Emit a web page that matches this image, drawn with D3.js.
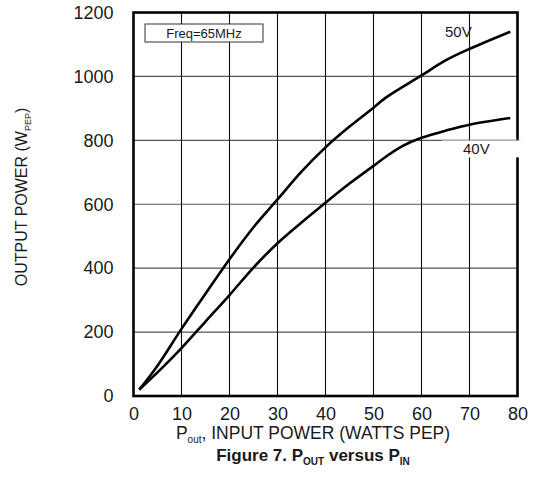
<!DOCTYPE html>
<html><head><meta charset="utf-8">
<script src="https://cdn.jsdelivr.net/npm/d3@7"></script>
<style>body{margin:0;background:#fff} text{font-family:"Liberation Sans",Arial,Helvetica,sans-serif}</style>
</head><body><svg id="c" width="535" height="480"></svg>
<script>
// ---- data ----
const xTicks = [0, 10, 20, 30, 40, 50, 60, 70, 80];
const yTicks = [0, 200, 400, 600, 800, 1000, 1200];
const pin50  = [1.2, 5, 10, 15, 20, 25, 30, 35, 40, 45, 50, 52.5, 60, 65, 70, 78.5];
const pout50 = [20, 95, 210, 320, 428, 528, 615, 702, 778, 843, 902, 933, 1003, 1050, 1086, 1140];
const pin40  = [1.2, 5, 10, 15, 20, 25, 30, 35, 40, 45, 50, 52.5, 56, 60, 65, 70, 78.5];
const pout40 = [20, 74, 150, 233, 316, 402, 478, 543, 605, 665, 720, 748, 782, 808, 830, 849, 870];
const seriesLabels = ["50V", "40V"];
const freqLabel = "Freq=65MHz";

const svg = d3.select("#c");
const x = d3.scaleLinear().domain([0, 80]).range([133.5, 517.5]);
const y = d3.scaleLinear().domain([0, 1200]).range([396, 12.5]);
const ink = "#1a1a1a";

// grid lines
svg.append("g").selectAll("line").data(yTicks.slice(1, -1)).join("line")
  .attr("x1", x(0)).attr("x2", x(80)).attr("y1", d => y(d)).attr("y2", d => y(d))
  .attr("stroke", "#555").attr("stroke-width", 1.1);
svg.append("g").selectAll("line").data(xTicks.slice(1, -1)).join("line")
  .attr("x1", d => x(d)).attr("x2", d => x(d)).attr("y1", y(0)).attr("y2", y(1200))
  .attr("stroke", "#111").attr("stroke-width", 1.1);

// axes labels
const ax = svg.append("g").attr("transform", `translate(0,${y(0)})`)
  .call(d3.axisBottom(x).tickValues(xTicks).tickSize(0).tickPadding(11).tickFormat(d3.format("d")));
const ay = svg.append("g").attr("transform", `translate(${x(0)},0)`)
  .call(d3.axisLeft(y).tickValues(yTicks).tickSize(0).tickPadding(20).tickFormat(d3.format("d")));
[ax, ay].forEach(g => {
  g.select(".domain").remove();
  g.selectAll("text").attr("font-size", 18).attr("fill", ink)
    .attr("font-family", '"Liberation Sans",Arial,sans-serif');
});

// curves
const line = d3.line().x(d => x(d[0])).y(d => y(d[1])).curve(d3.curveCatmullRom.alpha(0.5));
const s50 = pin50.map((v, i) => [v, pout50[i]]);
const s40 = pin40.map((v, i) => [v, pout40[i]]);
[s50, s40].forEach(s => {
  svg.append("path").datum(s).attr("d", line).attr("fill", "none")
    .attr("stroke", "#000").attr("stroke-width", 2.6).attr("stroke-linejoin", "round");
});

// border
svg.append("rect").attr("x", x(0)).attr("y", y(1200)).attr("width", x(80) - x(0)).attr("height", y(0) - y(1200))
  .attr("fill", "none").attr("stroke", "#000").attr("stroke-width", 2.6);

// freq box
svg.append("rect").attr("x", 145).attr("y", 24).attr("width", 118).attr("height", 18)
  .attr("fill", "#fff").attr("stroke", "#333").attr("stroke-width", 1);
svg.append("text").attr("x", 204).attr("y", 37.5).attr("text-anchor", "middle")
  .attr("font-size", 13).attr("fill", ink).text(freqLabel);

// series labels
svg.append("text").attr("x", 445).attr("y", 36.7).attr("font-size", 15).attr("fill", ink).text(seriesLabels[0]);
svg.append("rect").attr("x", 441.7).attr("y", 140.6).attr("width", 79).attr("height", 16.8).attr("fill", "#fff");
svg.append("line").attr("x1", 441.7).attr("x2", 520.7).attr("y1", 140.2).attr("y2", 140.2)
  .attr("stroke", "#bbb").attr("stroke-width", 0.8);
svg.append("text").attr("x", 463).attr("y", 153.6).attr("font-size", 15).attr("fill", ink).text(seriesLabels[1]);

// y title
const yt = svg.append("text").attr("transform", "translate(27,197) rotate(-90)")
  .attr("text-anchor", "middle").attr("font-size", 16).attr("fill", ink);
yt.append("tspan").text("OUTPUT POWER (W");
yt.append("tspan").attr("font-size", 9).attr("dy", 4).text("PEP");
yt.append("tspan").attr("font-size", 16).attr("dy", -4).text(")");

// x title
const xt = svg.append("text").attr("x", 313).attr("y", 438.5).attr("text-anchor", "middle")
  .attr("font-size", 17.5).attr("fill", ink);
xt.append("tspan").text("P");
xt.append("tspan").attr("font-size", 10).attr("dy", 4).text("out");
xt.append("tspan").attr("font-size", 17.5).attr("dy", -4).text(", INPUT POWER (WATTS PEP)");

// caption
const cap = svg.append("text").attr("x", 313).attr("y", 460.5).attr("text-anchor", "middle")
  .attr("font-size", 17).attr("font-weight", "bold").attr("fill", ink);
cap.append("tspan").text("Figure 7. P");
cap.append("tspan").attr("font-size", 10).attr("dy", 4).text("OUT");
cap.append("tspan").attr("font-size", 17).attr("dy", -4).text(" versus P");
cap.append("tspan").attr("font-size", 10).attr("dy", 4).text("IN");
</script></body></html>
